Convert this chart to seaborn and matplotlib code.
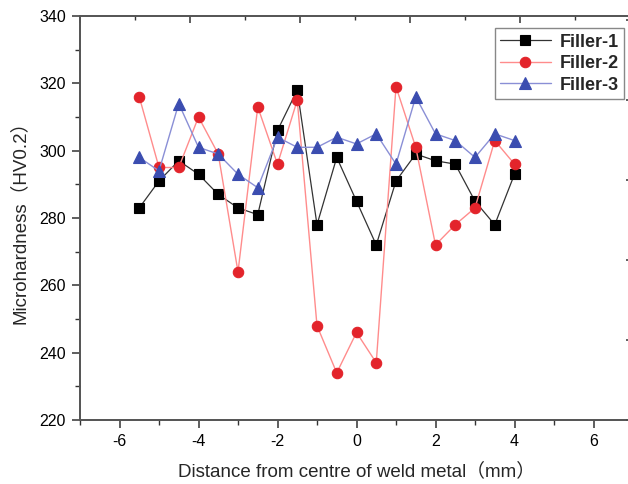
# Microhardness profile across weld metal for three fillers

import numpy as np
import pandas as pd
import matplotlib
matplotlib.use("Agg")
import matplotlib.pyplot as plt
import seaborn as sns
from matplotlib.ticker import MultipleLocator

# 1. Data
distance = [-5.5, -5, -4.5, -4, -3.5, -3, -2.5, -2, -1.5, -1,
            -0.5, 0, 0.5, 1, 1.5, 2, 2.5, 3, 3.5, 4]
filler_1 = [283, 291, 297, 293, 287, 283, 281, 306, 318, 278,
            298, 285, 272, 291, 299, 297, 296, 285, 278, 293]
filler_2 = [316, 295, 295, 310, 299, 264, 313, 296, 315, 248,
            234, 246, 237, 319, 301, 272, 278, 283, 303, 296]
filler_3 = [298, 294, 314, 301, 299, 293, 289, 304, 301, 301,
            304, 302, 305, 296, 316, 305, 303, 298, 305, 303]
series_names = ["Filler-1", "Filler-2", "Filler-3"]

df = pd.DataFrame({"distance": distance, "Filler-1": filler_1,
                   "Filler-2": filler_2, "Filler-3": filler_3})

# 2. Style
sns.set_theme(style="ticks")
plt.rcParams["font.family"] = ["Liberation Sans", "Noto Sans CJK SC", "DejaVu Sans"]
plt.rcParams["axes.unicode_minus"] = False
plt.rcParams["axes.linewidth"] = 1.1
plt.rcParams["axes.edgecolor"] = "#555555"

styles = {
    "Filler-1": dict(color="#333333", marker="s", markersize=6.5,
                     markerfacecolor="black", markeredgecolor="black", lw=0.9),
    "Filler-2": dict(color="#ff8c8c", marker="o", markersize=7.5,
                     markerfacecolor="#e3242b", markeredgecolor="#e3242b", lw=1.0),
    "Filler-3": dict(color="#8a8fd6", marker="^", markersize=8,
                     markerfacecolor="#3b4db0", markeredgecolor="#3b4db0", lw=1.0),
}

# 3. Plot
fig = plt.figure(figsize=(6.28, 4.84), dpi=100)
ax = fig.add_axes([80 / 628, 64 / 484, 553 / 628, 404 / 484])

for name in series_names:
    sns.lineplot(data=df, x="distance", y=name, ax=ax, label=name,
                 markeredgewidth=0.8, **styles[name])

ax.set_xlim(-7, 7)
ax.set_ylim(220, 340)
ax.xaxis.set_major_locator(MultipleLocator(2))
ax.xaxis.set_minor_locator(MultipleLocator(1))
ax.yaxis.set_major_locator(MultipleLocator(20))
ax.yaxis.set_minor_locator(MultipleLocator(10))
ax.tick_params(which="major", direction="out", length=6, width=1.1,
               labelsize=11.5, colors="#333333", labelcolor="black", pad=4)
ax.tick_params(which="minor", direction="out", length=3.5, width=1.0, colors="#333333")
ax.tick_params(top=False, right=False, which="both")

ax.set_xlabel("Distance from centre of weld metal（mm）", fontsize=13.5, labelpad=10)
ax.set_ylabel("Microhardness（HV0.2）", fontsize=13.5, labelpad=8)

# inward ticks on the top and right frame
ax_top = ax.twiny()
ax_top.set_xlim(0, 553 / 55)
ax_top.xaxis.set_major_locator(MultipleLocator(2))
ax_top.xaxis.set_minor_locator(MultipleLocator(1))
ax_top.tick_params(axis="x", which="major", direction="in", length=5, width=1.1,
                   labeltop=False, colors="#333333")
ax_top.tick_params(axis="x", which="minor", direction="in", length=3, width=1.0,
                   colors="#333333")
ax_top.grid(False)

ax_right = ax.twinx()
ax_right.set_ylim(0, 404 / 40)
ax_right.yaxis.set_major_locator(MultipleLocator(2))
ax_right.yaxis.set_minor_locator(MultipleLocator(1))
ax_right.tick_params(axis="y", which="major", direction="in", length=5, width=1.1,
                     labelright=False, colors="#333333")
ax_right.tick_params(axis="y", which="minor", direction="in", length=3, width=1.0,
                     colors="#333333")
ax_right.grid(False)

leg = ax.legend(loc="upper right", bbox_to_anchor=(0.984, 0.970),
                prop={"size": 13, "weight": "bold"}, frameon=True, fancybox=False,
                edgecolor="#888888", framealpha=1, handlelength=2.8,
                labelspacing=0.25, borderpad=0.3, handletextpad=0.5,
                borderaxespad=0)
leg.get_frame().set_linewidth(1.0)

fig.savefig("out.png", dpi=100)
